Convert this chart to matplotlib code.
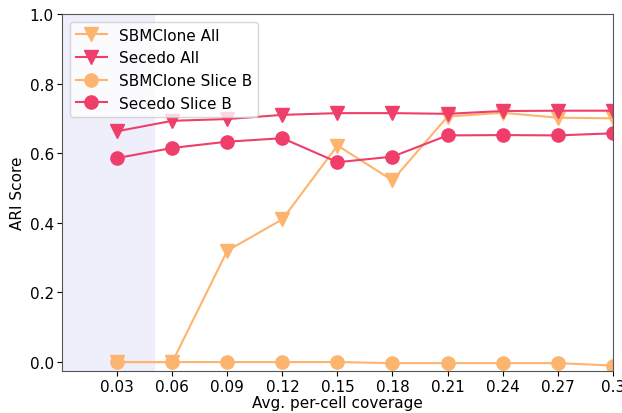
import matplotlib
matplotlib.use("Agg")
import matplotlib.pyplot as plt

coverage = [0.03, 0.06, 0.09, 0.12, 0.15, 0.18, 0.21, 0.24, 0.27, 0.30]
sbmclone_all = [0.0, 0.0, 0.32, 0.41, 0.622, 0.522, 0.705, 0.716, 0.702, 0.700]
secedo_all = [0.663, 0.693, 0.698, 0.710, 0.715, 0.715, 0.713, 0.721, 0.722, 0.722]
sbmclone_slice_b = [0.0, 0.0, 0.0, 0.0, 0.0, -0.003, -0.003, -0.003, -0.003, -0.01]
secedo_slice_b = [0.586, 0.615, 0.633, 0.643, 0.574, 0.590, 0.651, 0.652, 0.651, 0.657]

orange = "#FDB46E"
pink = "#F03E6B"

fig = plt.figure(figsize=(6.22, 4.14), dpi=100)
ax = fig.add_axes([0.1, 0.102, 0.885, 0.862])

ax.axvspan(0, 0.05, color="#EFEFFC", zorder=0)

ax.plot(coverage, sbmclone_all, "v-", color=orange, markersize=9.5, lw=1.5, label="SBMClone All")
ax.plot(coverage, secedo_all, "v-", color=pink, markersize=9.5, lw=1.5, label="Secedo All")
ax.plot(coverage, sbmclone_slice_b, "o-", color=orange, markersize=9.5, lw=1.5, label="SBMClone Slice B")
ax.plot(coverage, secedo_slice_b, "o-", color=pink, markersize=9.5, lw=1.5, label="Secedo Slice B")

ax.set_xlim(0, 0.3)
ax.set_ylim(-0.025, 1.0)
ax.set_xticks(coverage)
ax.set_xticklabels(["0.03", "0.06", "0.09", "0.12", "0.15", "0.18", "0.21", "0.24", "0.27", "0.3"])
ax.set_yticks([0.0, 0.2, 0.4, 0.6, 0.8, 1.0])
ax.tick_params(labelsize=11, pad=2.5)
ax.set_xlabel("Avg. per-cell coverage", fontsize=11, labelpad=1)
ax.set_ylabel("ARI Score", fontsize=11, labelpad=3)
for s in ax.spines.values():
    s.set_color("#555555")

ax.legend(loc="upper left", fontsize=11)

fig.savefig("out.png", dpi=100)
